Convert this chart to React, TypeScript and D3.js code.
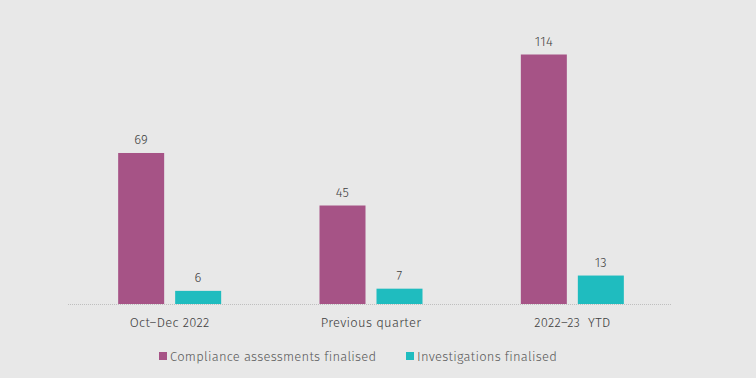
import React from "react";
import * as d3 from "d3";

const categories = ["Oct–Dec 2022", "Previous quarter", "2022–23\u00a0 YTD"];
const seriesNames = ["Compliance assessments finalised", "Investigations finalised"];
const compliance = [69, 45, 114];
const investigations = [6, 7, 13];
const colors = ["#a65386", "#1fbcbf"];

export default function App() {
  const W = 756, H = 378;
  const baseY = 304;
  const x = d3.scaleBand().domain(categories).range([69, 673]).paddingInner(0).paddingOuter(0);
  const y = d3.scaleLinear().domain([0, 114]).range([baseY, 54.5]);
  const barW = 46, gap = 11;
  const font = "'Fira Sans', 'Open Sans', 'Noto Sans', sans-serif";
  const series = [compliance, investigations];
  return (
    <svg width={W} height={H} style={{ position: "absolute", left: 0, top: 0, background: "#e8e8e8" }} fontFamily={font} fontWeight={300}>
      <rect x={0} y={0} width={W} height={H} fill="#e8e8e8" />
      {categories.map((c, i) => {
        const cx = (x(c) as number) + x.bandwidth() / 2;
        return (
          <g key={c}>
            {series.map((s, k) => {
              const bx = cx - (barW * 2 + gap) / 2 + k * (barW + gap);
              return (
                <g key={k}>
                  <rect x={bx} y={y(s[i])} width={barW} height={baseY - y(s[i])} fill={colors[k]} />
                  <text x={bx + barW / 2} y={y(s[i]) - 9} textAnchor="middle" fontSize={13} letterSpacing={0.3} fill="#404040">{s[i]}</text>
                </g>
              );
            })}
            <text x={cx} y={326.5} textAnchor="middle" fontSize={13} letterSpacing={0.3} fill="#404040">{c}</text>
          </g>
        );
      })}
      <line x1={68} x2={672} y1={baseY + 0.5} y2={baseY + 0.5} stroke="#bfbfbf" strokeDasharray="1,1" />
      {seriesNames.map((n, k) => {
        const lx = [159, 406][k];
        return (
          <g key={n}>
            <rect x={lx} y={352} width={8} height={8} fill={colors[k]} />
            <text x={lx + 11} y={360.5} fontSize={13} letterSpacing={0.25} fill="#595959">{n}</text>
          </g>
        );
      })}
    </svg>
  );
}
